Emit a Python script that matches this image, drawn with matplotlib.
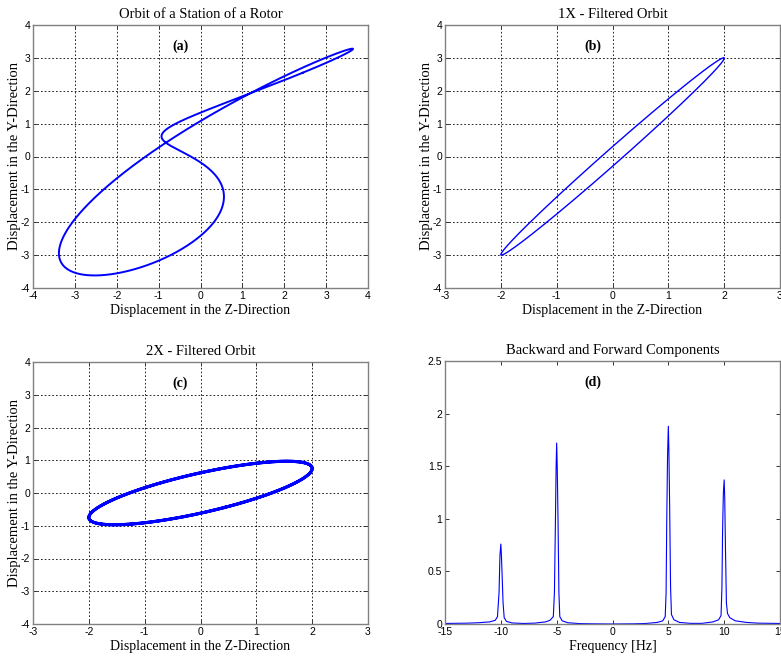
import numpy as np
import matplotlib
matplotlib.use("Agg")
import matplotlib.pyplot as plt

# harmonic components of the orbit (order, amplitude, phase in rad)
orders = [1, 2]
z_amp = [2.0, 2.0]
z_phase = [0.0, -1.35]
y_amp = [3.0, 0.97]
y_phase = [-0.1, -2.04]

# full spectrum (backward / forward components)
spec_freq = [-15, -13, -12, -11, -10.5, -10.3, -10.16, -10.08, -10.0, -9.95, -9.88,
             -9.8, -9.7, -9.5, -9, -8, -7, -6, -5.6, -5.3, -5.2, -5.12, -5.05, -5.0,
             -4.95, -4.88, -4.8, -4.72, -4.5, -4, -3, -2, 0, 2, 3, 4, 4.5, 4.72, 4.8,
             4.86, 4.93, 5.0, 5.05, 5.12, 5.2, 5.28, 5.5, 6, 7, 8, 9, 9.5, 9.72, 9.8,
             9.86, 9.93, 10.0, 10.05, 10.12, 10.2, 10.3, 10.5, 11, 12, 13, 15]
spec_amp = [0.005, 0.008, 0.012, 0.02, 0.035, 0.07, 0.3, 0.65, 0.76, 0.66, 0.45,
            0.2, 0.06, 0.025, 0.01, 0.005, 0.008, 0.02, 0.035, 0.07, 0.3, 0.9, 1.5, 1.72,
            1.5, 1.0, 0.3, 0.07, 0.03, 0.012, 0.004, 0.002, 0.0, 0.002, 0.005, 0.015, 0.03,
            0.07, 0.3, 1.0, 1.6, 1.88, 1.65, 1.1, 0.35, 0.09, 0.04, 0.015, 0.006, 0.006,
            0.02, 0.04, 0.08, 0.35, 0.9, 1.25, 1.37, 1.2, 0.7, 0.2, 0.1, 0.06, 0.03, 0.015,
            0.008, 0.005]

panel_titles = ["Orbit of a Station of a Rotor", "1X - Filtered Orbit",
                "2X - Filtered Orbit", "Backward and Forward Components"]
panel_tags = ["(a)", "(b)", "(c)", "(d)"]


def orbit(which):
    t = np.linspace(0, 2 * np.pi, 1500)
    z = np.zeros_like(t)
    y = np.zeros_like(t)
    for k, n in enumerate(orders):
        if n in which:
            z += z_amp[k] * np.cos(n * t + z_phase[k])
            y += y_amp[k] * np.cos(n * t + y_phase[k])
    return z, y


serif = "Liberation Serif"
sans = "Liberation Sans"
plt.rcParams["font.family"] = sans
plt.rcParams["axes.unicode_minus"] = False

fig = plt.figure(figsize=(7.81, 6.6), dpi=100)
W, H = 781, 660
boxes = [(33, 25, 368, 288), (445, 25, 780, 288),
         (33, 362, 368, 624), (445, 361, 780, 624)]
axs = []
for (x0, y0, x1, y1) in boxes:
    axs.append(fig.add_axes([x0 / W, 1 - y1 / H, (x1 - x0) / W, (y1 - y0) / H]))


def style(ax, grid=True):
    for s in ax.spines.values():
        s.set_color("#808080")
        s.set_linewidth(1.0)
    ax.tick_params(direction="in", length=3, width=0.7, colors="#333333",
                   labelsize=7.5, labelcolor="black", top=True, right=True, pad=2)
    if grid:
        ax.grid(True, color="black", linestyle=(0, (2, 2.5)), linewidth=0.6)
        ax.set_axisbelow(True)


lws = [1.4, 1.0, 2.2]
sets = [(1, 2), (1,), (2,)]
lims = [(-4, 4), (-3, 3), (-3, 3)]
for i in range(3):
    ax = axs[i]
    z, y = orbit(sets[i])
    ax.plot(z, y, color="#0000ff", lw=lws[i])
    ax.set_xlim(*lims[i])
    ax.set_ylim(-4, 4)
    ax.set_xticks(np.arange(lims[i][0], lims[i][1] + 1))
    ax.set_yticks(np.arange(-4, 5))
    style(ax)
    ax.set_xlabel("Displacement in the Z-Direction", family=serif, fontsize=10, labelpad=2)
    ax.set_ylabel("Displacement in the Y-Direction", family=serif, fontsize=10.5)
    ax.yaxis.set_label_coords(-0.036, 0.5)

ax = axs[3]
ax.plot(spec_freq, spec_amp, color="#0000ff", lw=0.8)
ax.set_xlim(-15, 15)
ax.set_ylim(0, 2.5)
ax.set_xticks(np.arange(-15, 16, 5))
ax.set_yticks([0, 0.5, 1, 1.5, 2, 2.5])
ax.set_yticklabels(["0", "0.5", "1", "1.5", "2", "2.5"])
style(ax, grid=False)
ax.set_xlabel("Frequency [Hz]", family=serif, fontsize=10, labelpad=2)

for ax, title, tag in zip(axs, panel_titles, panel_tags):
    ax.set_title(title, family=serif, fontsize=10.5, pad=5)
    ax.text(0.44, 0.92, tag, transform=ax.transAxes, family=serif,
            fontweight="bold", fontsize=10, ha="center", va="center")

fig.savefig("out.png", dpi=100)
